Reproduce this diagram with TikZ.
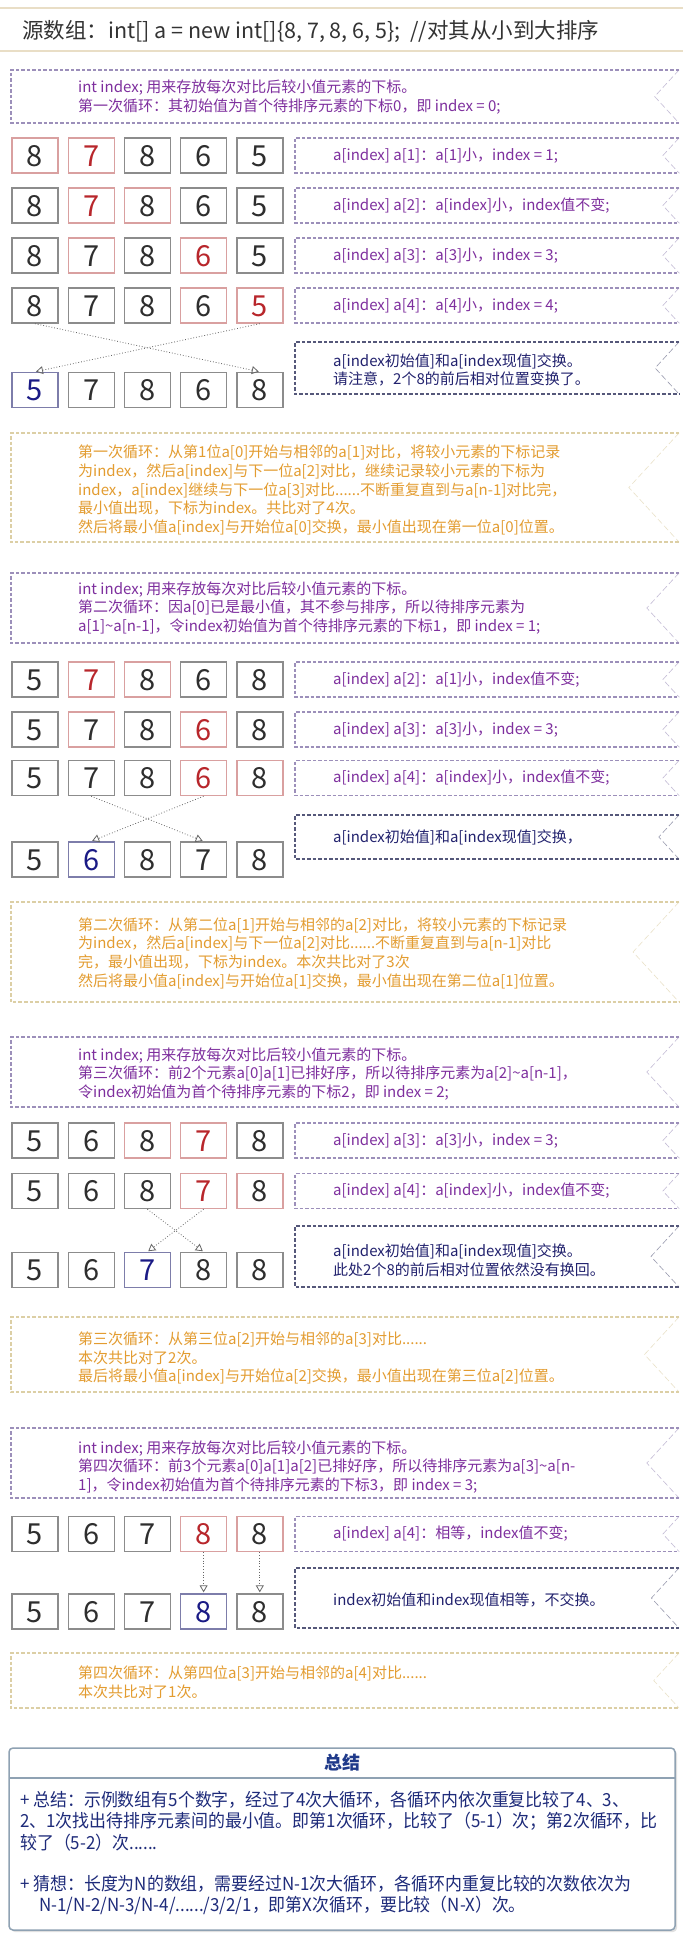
\documentclass[tikz,border=0pt]{standalone}
\usepackage{fontspec}
\setmainfont{Noto Sans CJK SC}
\newfontfamily\sumfont[FakeStretch=0.94]{Noto Sans CJK SC}
\usetikzlibrary{arrows.meta,calc}
\definecolor{purpT}{HTML}{7E2F9E}
\definecolor{purpB}{HTML}{9C8FBA}
\definecolor{darkB}{HTML}{55587A}
\definecolor{darkT}{HTML}{22226E}
\definecolor{oranT}{HTML}{E39C30}
\definecolor{oranB}{HTML}{DCCFA5}
\definecolor{redT}{HTML}{B8262B}
\definecolor{redB}{HTML}{D9A0A0}
\definecolor{bluT}{HTML}{1A1A85}
\definecolor{bluB}{HTML}{7D7DAA}
\definecolor{grayB}{HTML}{8C8C8C}
\definecolor{digT}{HTML}{2E2E2E}
\definecolor{sumB}{HTML}{8FA2B3}
\definecolor{sumH}{HTML}{1F3A8A}
\definecolor{sumT}{HTML}{1E2B7A}
\definecolor{tanL}{HTML}{E9DEC6}
\tikzset{
  dashbox/.style={line width=1.1pt, dash pattern=on 3.5pt off 2pt},
  chevline/.style={line width=0.6pt, dash pattern=on 6pt off 3pt, draw opacity=0.6},
  numbox/.style={draw=grayB, line width=1.4pt, fill=white, minimum width=46pt, minimum height=35pt,
    inner sep=0pt, text=digT, font=\fontsize{29}{29}\selectfont, text height=21.5pt, text depth=0pt},
  nb/.style={numbox},
  nr/.style={numbox, draw=redB},
  nrr/.style={numbox, draw=redB, text=redT},
  nbl/.style={numbox, draw=bluB, text=bluT},
  bx/.style={#1},
  ptext/.style={text=purpT, font=\fontsize{15}{18.7}\selectfont, align=left, anchor=west, inner sep=0pt},
  dtext/.style={ptext, text=darkT},
  otext/.style={ptext, text=oranT},
  swaparrow/.style={draw=black!60, line width=0.8pt, dotted, -{Triangle[open,length=7pt,width=8pt]}, shorten >=1pt},
  tanline/.style={draw=tanL, line width=2pt},
  sumtext/.style={anchor=west, align=left, inner sep=0pt, text=sumT, font=\sumfont\fontsize{18}{21.5}\selectfont},
}
\newcommand\NumRow[3]{\foreach \s/\d [count=\i] in {#3} {\node[bx/.expanded=\s] (#1-\i) at ({35+56.2*(\i-1)},#2) {\d};}}
\newcommand\Ribbon[4]{%
  \pgfmathsetmacro\rbmid{(#2+#3)/2}%
  \pgfmathsetmacro\rbtip{679-0.46*(#3-#2)}%
  \draw[dashbox,draw=#4] (679,#2) -- (#1,#2) -- (#1,#3) -- (679,#3);
  \draw[chevline,draw=#4] (679,#2) -- (\rbtip,\rbmid) -- (679,#3);
}
\begin{document}
\begin{tikzpicture}[x=1pt,y=-1pt]
\useasboundingbox[fill=white] (0,0) rectangle (683,1937);
% title
\draw[tanline] (0,8) -- (683,8);
\draw[tanline] (0,51) -- (683,51);
\node[anchor=west, inner sep=0pt, font=\fontsize{21.5}{21.5}\selectfont, text=black!80] (title) at (22,31)
  {源数组：int[] a = new int[]\{8, 7, 8, 6, 5\};\ \ //对其从小到大排序};

% ---------- loop 1
\Ribbon{11}{70}{123}{purpB}
\node[ptext] (p1) at (78,97) {int index; 用来存放每次对比后较小值元素的下标。\\第一次循环：其初始值为首个待排序元素的下标0，即 index = 0;};

\NumRow{a1}{155.5}{nr/8,nrr/7,nb/8,nb/6,nb/5}
\Ribbon{295}{138}{173}{purpB}
\node[ptext] (ta1) at (333,155.5) {a[index] a[1]：a[1]小，index = 1;};
\NumRow{a2}{205.5}{nb/8,nrr/7,nr/8,nb/6,nb/5}
\Ribbon{295}{188}{223}{purpB}
\node[ptext] (ta2) at (333,205.5) {a[index] a[2]：a[index]小，index值不变;};
\NumRow{a3}{255.5}{nb/8,nr/7,nb/8,nrr/6,nb/5}
\Ribbon{295}{238}{273}{purpB}
\node[ptext] (ta3) at (333,255.5) {a[index] a[3]：a[3]小，index = 3;};
\NumRow{a4}{305.5}{nb/8,nb/7,nb/8,nr/6,nrr/5}
\Ribbon{295}{288}{323}{purpB}
\node[ptext] (ta4) at (333,305.5) {a[index] a[4]：a[4]小，index = 4;};

\Ribbon{295}{342}{394}{darkB}
\node[dtext] (s1) at (333,370) {a[index初始值]和a[index现值]交换。\\请注意，2个8的前后相对位置变换了。};
\NumRow{r1}{390}{nbl/5,nb/7,nb/8,nb/6,nb/8}
\draw[swaparrow] (a4-1.south) -- (r1-5.north);
\draw[swaparrow] (a4-5.south) -- (r1-1.north);

\Ribbon{11}{433}{542}{oranB}
\node[otext] (o1) at (78,490) {第一次循环：从第1位a[0]开始与相邻的a[1]对比，将较小元素的下标记录\\为index，然后a[index]与下一位a[2]对比，继续记录较小元素的下标为\\index，a[index]继续与下一位a[3]对比......不断重复直到与a[n-1]对比完，\\最小值出现，下标为index。共比对了4次。\\然后将最小值a[index]与开始位a[0]交换，最小值出现在第一位a[0]位置。};

% ---------- loop 2
\Ribbon{11}{573}{643}{purpB}
\node[ptext] (p2) at (78,608) {int index; 用来存放每次对比后较小值元素的下标。\\第二次循环：因a[0]已是最小值，其不参与排序，所以待排序元素为\\a[1]\textasciitilde a[n-1]，令index初始值为首个待排序元素的下标1，即 index = 1;};

\NumRow{b1}{679.5}{nb/5,nrr/7,nr/8,nb/6,nb/8}
\Ribbon{295}{662}{697}{purpB}
\node[ptext] (tb1) at (333,679.5) {a[index] a[2]：a[1]小，index值不变;};
\NumRow{b2}{729.5}{nb/5,nr/7,nb/8,nrr/6,nb/8}
\Ribbon{295}{712}{747}{purpB}
\node[ptext] (tb2) at (333,729.5) {a[index] a[3]：a[3]小，index = 3;};
\NumRow{b3}{778}{nb/5,nb/7,nb/8,nrr/6,nr/8}
\Ribbon{295}{760.5}{795.5}{purpB}
\node[ptext] (tb3) at (333,778) {a[index] a[4]：a[index]小，index值不变;};

\Ribbon{295}{815}{859}{darkB}
\node[dtext] (s2) at (333,837) {a[index初始值]和a[index现值]交换，};
\NumRow{r2}{859.5}{nb/5,nbl/6,nb/8,nb/7,nb/8}
\draw[swaparrow] (b3-2.south) -- (r2-4.north);
\draw[swaparrow] (b3-4.south) -- (r2-2.north);

\Ribbon{11}{902}{1002}{oranB}
\node[otext] (o2) at (78,953) {第二次循环：从第二位a[1]开始与相邻的a[2]对比，将较小元素的下标记录\\为index，然后a[index]与下一位a[2]对比......不断重复直到与a[n-1]对比\\完，最小值出现，下标为index。本次共比对了3次\\然后将最小值a[index]与开始位a[1]交换，最小值出现在第二位a[1]位置。};

% ---------- loop 3
\Ribbon{11}{1037}{1107}{purpB}
\node[ptext] (p3) at (78,1074) {int index; 用来存放每次对比后较小值元素的下标。\\第三次循环：前2个元素a[0]a[1]已排好序，所以待排序元素为a[2]\textasciitilde a[n-1]，\\令index初始值为首个待排序元素的下标2，即 index = 2;};

\NumRow{c1}{1140.5}{nb/5,nb/6,nr/8,nrr/7,nb/8}
\Ribbon{295}{1123}{1158}{purpB}
\node[ptext] (tc1) at (333,1140.5) {a[index] a[3]：a[3]小，index = 3;};
\NumRow{c2}{1191}{nb/5,nb/6,nb/8,nrr/7,nr/8}
\Ribbon{295}{1173.5}{1208.5}{purpB}
\node[ptext] (tc2) at (333,1191) {a[index] a[4]：a[index]小，index值不变;};

\Ribbon{295}{1226}{1287}{darkB}
\node[dtext] (s3) at (333,1260) {a[index初始值]和a[index现值]交换。\\此处2个8的前后相对位置依然没有换回。};
\NumRow{r3}{1270}{nb/5,nb/6,nbl/7,nb/8,nb/8}
\draw[swaparrow] (c2-3.south) -- (r3-4.north);
\draw[swaparrow] (c2-4.south) -- (r3-3.north);

\Ribbon{11}{1317}{1392}{oranB}
\node[otext] (o3) at (78,1358) {第三次循环：从第三位a[2]开始与相邻的a[3]对比......\\本次共比对了2次。\\最后将最小值a[index]与开始位a[2]交换，最小值出现在第三位a[2]位置。};

% ---------- loop 4
\Ribbon{11}{1428}{1498}{purpB}
\node[ptext] (p4) at (78,1467) {int index; 用来存放每次对比后较小值元素的下标。\\第四次循环：前3个元素a[0]a[1]a[2]已排好序，所以待排序元素为a[3]\textasciitilde a[n-\\1]，令index初始值为首个待排序元素的下标3，即 index = 3;};

\NumRow{d1}{1534}{nb/5,nb/6,nb/7,nrr/8,nr/8}
\Ribbon{295}{1516.5}{1551.5}{purpB}
\node[ptext] (td1) at (333,1534) {a[index] a[4]：相等，index值不变;};

\Ribbon{295}{1568}{1628}{darkB}
\node[dtext] (s4) at (333,1600) {index初始值和index现值相等，不交换。};
\NumRow{r4}{1611.5}{nb/5,nb/6,nb/7,nbl/8,nb/8}
\draw[swaparrow] (d1-4.south) -- (r4-4.north);
\draw[swaparrow] (d1-5.south) -- (r4-5.north);

\Ribbon{11}{1653}{1708}{oranB}
\node[otext] (o4) at (78,1682) {第四次循环：从第四位a[3]开始与相邻的a[4]对比......\\本次共比对了1次。};

% ---------- summary
\fill[black!12, rounded corners=4pt] (11,1750) rectangle (677,1932);
\draw[draw=sumB, fill=white, line width=1.5pt, rounded corners=4pt] (9,1748) rectangle (675,1930);
\draw[draw=sumB, line width=1.5pt] (9,1778) -- (675,1778);
\node[font=\bfseries\fontsize{18}{18}\selectfont, text=sumH, inner sep=0pt] (sumhead) at (342,1763) {总结};
\node[sumtext] (sum1) at (20,1821)
  {+ 总结：示例数组有5个数字，经过了4次大循环，各循环内依次重复比较了4、3、\\2、1次找出待排序元素间的最小值。即第1次循环，比较了（5-1）次；第2次循环，比\\较了（5-2）次......};
\node[sumtext] (sum2) at (20,1895)
  {+ 猜想：长度为N的数组，需要经过N-1次大循环，各循环内重复比较的次数依次为\\\hspace*{19pt}N-1/N-2/N-3/N-4/....../3/2/1，即第X次循环，要比较（N-X）次。};
\end{tikzpicture}
\end{document}
